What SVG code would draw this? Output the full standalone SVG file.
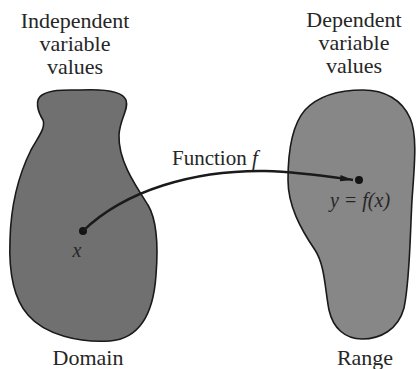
<svg xmlns="http://www.w3.org/2000/svg" width="417" height="369" viewBox="0 0 417 369">
<defs>
<style>
.lbl{font-family:'Liberation Serif','Times New Roman',serif;font-size:22px;fill:#262626;text-anchor:middle}
.it{font-family:'Liberation Serif','Times New Roman',serif;font-style:italic;font-size:20px;fill:#262626;text-anchor:middle}
.fn{font-family:'Liberation Serif','Times New Roman',serif;font-size:21px;fill:#262626}
.blob{stroke:#1a1a1a;stroke-width:1.6}
.dot{fill:#141414}
.conn{fill:none;stroke:#1a1a1a;stroke-width:2.4}
</style>
<marker id="arr" markerUnits="userSpaceOnUse" markerWidth="14" markerHeight="8" refX="13" refY="4" orient="auto">
<path d="M0,0.8 L13,4 L0,7.2 Z" fill="#1a1a1a"/>
</marker>
</defs>
<rect width="417" height="369" fill="#ffffff"/>

<g id="domain">
<path class="blob" fill="#707070" d="M 80,90 C 100,89 122,90 126,100 C 129,110 120,118 119,135 C 118,160 135,185 148,205 C 158,222 158,250 156,275 C 154,305 145,338 110,341 C 80,343 45,335 28,315 C 12,297 9,265 10,240 C 11,200 21,170 31,150 C 38,137 46,128 43,120 C 38,112 34,100 42,95 C 52,89 65,90 80,90 Z"/>
<text class="lbl" x="75" y="28">Independent</text>
<text class="lbl" x="75" y="51">variable</text>
<text class="lbl" x="75" y="74">values</text>
<text class="lbl" x="88" y="365">Domain</text>
</g>

<g id="range">
<path class="blob" fill="#878787" d="M 363,90 C 385,90 402,100 410,118 C 418,135 414,170 412,200 C 410,235 410,280 404,308 C 398,330 380,339 362,339 C 345,339 333,328 329,310 C 325,290 325,265 315,250 C 300,228 288,205 288,180 C 288,150 292,125 305,110 C 318,96 340,90 363,90 Z"/>
<text class="lbl" x="354" y="27">Dependent</text>
<text class="lbl" x="354" y="50">variable</text>
<text class="lbl" x="354" y="73">values</text>
<text class="lbl" x="365" y="365">Range</text>
</g>

<g id="x-point">
<circle class="dot" cx="83" cy="231" r="4"/>
<text class="it" x="77" y="257">x</text>
</g>

<g id="y-point">
<circle class="dot" cx="359" cy="180" r="4"/>
<text class="it" x="360" y="207">y = f(x)</text>
</g>

<g id="connectors">
<path class="conn" d="M 83,231 C 125,190 195,170 265,171 C 300,172 325,176 353,180" marker-end="url(#arr)"/>
<text class="fn" x="172" y="165">Function <tspan font-style="italic">f</tspan></text>
</g>
</svg>
